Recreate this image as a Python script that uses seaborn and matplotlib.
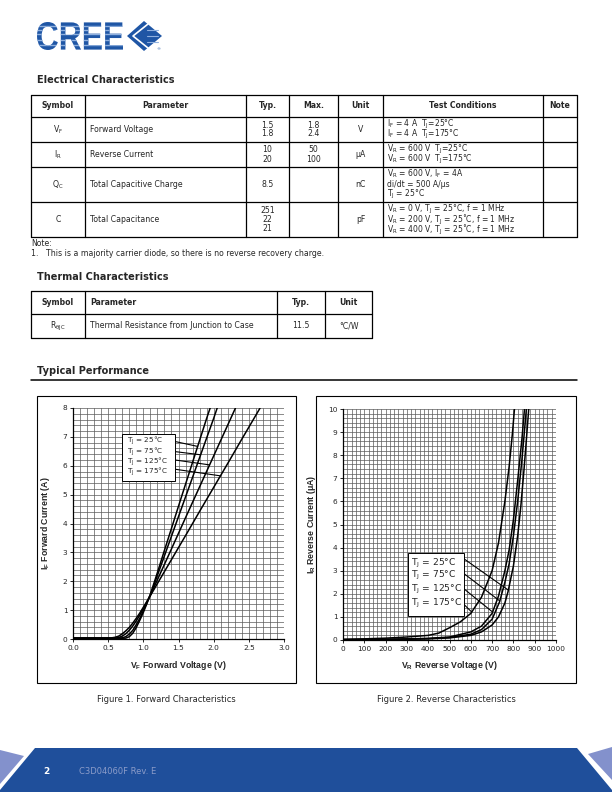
import numpy as np
import pandas as pd
import seaborn as sns
import matplotlib
matplotlib.use('Agg')
import matplotlib.pyplot as plt
from matplotlib.patches import Rectangle, Polygon, PathPatch
from matplotlib.textpath import TextPath
from matplotlib.font_manager import FontProperties
from matplotlib.ticker import MultipleLocator, FormatStrFormatter
from matplotlib.transforms import Affine2D

sns.set_style('white')
plt.rcParams['font.family'] = ['DejaVu Sans']
plt.rcParams['mathtext.default'] = 'regular'

def sub(base, s):
    return base + r'$_\mathregular{' + s + '}$'

TJ = sub('T', 'J')

# ---------------------------------------------------------------- table data
elec_header = ['Symbol', 'Parameter', 'Typ.', 'Max.', 'Unit', 'Test Conditions', 'Note']
elec_symbols = [sub('V', 'F'), sub('I', 'R'), sub('Q', 'C'), 'C']
elec_params = ['Forward Voltage', 'Reverse Current', 'Total Capacitive Charge', 'Total Capacitance']
elec_typ = [['1.5', '1.8'], ['10', '20'], ['8.5'], ['251', '22', '21']]
elec_max = [['1.8', '2.4'], ['50', '100'], [], []]
elec_units = ['V', 'μA', 'nC', 'pF']
elec_conds = [
    [sub('I', 'F') + ' = 4 A  ' + TJ + '=25°C', sub('I', 'F') + ' = 4 A  ' + TJ + '=175°C'],
    [sub('V', 'R') + ' = 600 V  ' + TJ + '=25°C', sub('V', 'R') + ' = 600 V  ' + TJ + '=175°C'],
    [sub('V', 'R') + ' = 600 V, ' + sub('I', 'F') + ' = 4A', 'di/dt = 500 A/μs', TJ + ' = 25°C'],
    [sub('V', 'R') + ' = 0 V, ' + TJ + ' = 25°C, f = 1 MHz',
     sub('V', 'R') + ' = 200 V, ' + TJ + ' = 25˚C, f = 1 MHz',
     sub('V', 'R') + ' = 400 V, ' + TJ + ' = 25˚C, f = 1 MHz'],
]
note_lines = ['Note:', '1.   This is a majority carrier diode, so there is no reverse recovery charge.']

therm_header = ['Symbol', 'Parameter', 'Typ.', 'Unit']
therm_row = [sub('R', 'θJC'), 'Thermal Resistance from Junction to Case', '11.5', '°C/W']

# ---------------------------------------------------------------- chart data
temps = ['25°C', '75°C', '125°C', '175°C']

# forward characteristics (V, A)
vf_25 = [0, 0.6, 0.75, 0.8, 0.85, 0.9, 0.95, 1.0, 1.05, 1.1, 1.2, 1.3, 1.4, 1.5, 1.6, 1.7, 1.8, 1.9, 1.95]
if_25 = [0.02, 0.02, 0.03, 0.08, 0.2, 0.4, 0.65, 0.92, 1.22, 1.55, 2.3, 3.07, 3.83, 4.6, 5.36, 6.12, 6.88, 7.64, 8.0]
vf_75 = [0, 0.6, 0.7, 0.75, 0.8, 0.85, 0.9, 0.95, 1.0, 1.05, 1.1, 1.2, 1.3, 1.4, 1.5, 1.6, 1.7, 1.8, 1.9, 2.0, 2.05]
if_75 = [0.02, 0.02, 0.04, 0.08, 0.17, 0.3, 0.5, 0.72, 0.98, 1.25, 1.53, 2.2, 2.88, 3.56, 4.24, 4.92, 5.6, 6.28, 6.96, 7.64, 8.0]
vf_125 = [0, 0.6, 0.65, 0.7, 0.75, 0.8, 0.85, 0.9, 0.95, 1.0, 1.05, 1.1, 1.2, 1.4, 1.6, 1.8, 2.0, 2.2, 2.31]
if_125 = [0.03, 0.03, 0.05, 0.1, 0.18, 0.3, 0.45, 0.63, 0.83, 1.05, 1.28, 1.52, 2.05, 3.12, 4.2, 5.27, 6.34, 7.41, 8.0]
vf_175 = [0, 0.55, 0.6, 0.65, 0.7, 0.75, 0.8, 0.85, 0.9, 0.95, 1.0, 1.05, 1.1, 1.2, 1.4, 1.6, 1.8, 2.0, 2.2, 2.4, 2.6, 2.66]
if_175 = [0.04, 0.04, 0.06, 0.1, 0.18, 0.28, 0.4, 0.55, 0.72, 0.9, 1.1, 1.3, 1.5, 1.92, 2.75, 3.58, 4.42, 5.25, 6.08, 6.92, 7.75, 8.0]
fwd_leader_i = [6.67, 6.38, 6.03, 5.65]

# reverse characteristics (V, uA)
vr_25 = [0, 200, 400, 500, 600, 650, 700, 730, 760, 775, 800, 820, 835, 850, 862, 872]
ir_25 = [0.01, 0.02, 0.05, 0.09, 0.2, 0.35, 0.65, 1.0, 1.6, 2.1, 3.2, 4.5, 5.8, 7.4, 8.8, 10.0]
vr_75 = [0, 200, 400, 500, 600, 650, 700, 735, 760, 780, 800, 820, 840, 861]
ir_75 = [0.01, 0.02, 0.06, 0.11, 0.25, 0.45, 0.9, 1.65, 2.5, 3.3, 4.5, 6.0, 7.8, 10.0]
vr_125 = [0, 200, 400, 500, 600, 650, 700, 730, 760, 780, 800, 820, 840, 852]
ir_125 = [0.02, 0.03, 0.07, 0.13, 0.35, 0.6, 1.15, 1.9, 3.0, 3.9, 5.2, 6.9, 8.7, 10.0]
vr_175 = [0, 100, 200, 300, 400, 450, 500, 550, 600, 650, 700, 730, 760, 780, 795, 805]
ir_175 = [0.03, 0.05, 0.08, 0.13, 0.2, 0.3, 0.53, 0.78, 1.15, 1.85, 3.0, 4.2, 6.0, 7.5, 8.9, 10.0]
rev_leader_i = [2.16, 1.69, 1.21, 1.21]

fwd = pd.concat([pd.DataFrame({'V': v, 'I': i, 'T': t}) for v, i, t in
                 zip([vf_25, vf_75, vf_125, vf_175], [if_25, if_75, if_125, if_175], temps)])
rev = pd.concat([pd.DataFrame({'V': v, 'I': i, 'T': t}) for v, i, t in
                 zip([vr_25, vr_75, vr_125, vr_175], [ir_25, ir_75, ir_125, ir_175], temps)])

# ---------------------------------------------------------------- page
fig = plt.figure(figsize=(6.12, 7.92), dpi=100)
page = fig.add_axes([0, 0, 1, 1])
page.set_xlim(0, 612)
page.set_ylim(792, 0)
page.axis('off')

BLUE = '#1f56a5'
FS = 5.6

# logo
tp = TextPath((0, 0), 'CREE', size=1, prop=FontProperties(family='Liberation Sans', weight='bold'))
bb = tp.get_extents()
tr = Affine2D().translate(-bb.x0, -bb.y0).scale(86 / bb.width, -28 / bb.height).translate(37, 50)
logo = PathPatch(tp, transform=tr + page.transData, color=BLUE, lw=0)
page.add_patch(logo)
for yy in [25.5, 29.5, 33.5, 39.5, 44.5]:
    ln, = page.plot([36, 124], [yy, yy], color='#8fb0de', lw=1.0)
    ln.set_clip_path(logo)
page.add_patch(Polygon([(127, 36), (144, 21), (162, 36), (144, 51)], color=BLUE, lw=0))
page.plot([148, 133, 148], [24, 36, 48], color='white', lw=1.2)
for yy in [30, 36, 42]:
    page.plot([147, 158], [yy, yy], color='#8fb0de', lw=0.8)
page.text(158, 49, '®', fontsize=3, color=BLUE, ha='center', va='center')

# headings
page.text(37, 80, 'Electrical Characteristics', fontsize=7, weight='bold', va='center')
page.text(37, 277, 'Thermal Characteristics', fontsize=7, weight='bold', va='center')
page.text(37, 371, 'Typical Performance', fontsize=7, weight='bold', va='center')
page.plot([31, 577], [380, 380], color='black', lw=1.1)

# electrical table
ecols = [31, 85, 246, 289, 338, 383, 543, 577]
erows = [95, 117, 142, 167, 202, 237]
for y in erows:
    page.plot([ecols[0], ecols[-1]], [y, y], color='black', lw=0.9)
for x in ecols:
    page.plot([x, x], [erows[0], erows[-1]], color='black', lw=0.9)
for k, h in enumerate(elec_header):
    page.text((ecols[k] + ecols[k + 1]) / 2, (erows[0] + erows[1]) / 2, h,
              fontsize=FS, weight='bold', ha='center', va='center')

def cell_lines(lines, x, ymid, ha, fs=FS, step=9):
    n = len(lines)
    for j, s in enumerate(lines):
        page.text(x, ymid + (j - (n - 1) / 2) * step, s, fontsize=fs, ha=ha, va='center')

for r in range(4):
    ymid = (erows[r + 1] + erows[r + 2]) / 2
    cmid = lambda k: (ecols[k] + ecols[k + 1]) / 2
    cell_lines([elec_symbols[r]], cmid(0), ymid, 'center')
    cell_lines([elec_params[r]], 90, ymid, 'left')
    cell_lines(elec_typ[r], cmid(2), ymid, 'center')
    cell_lines(elec_max[r], cmid(3), ymid, 'center')
    cell_lines([elec_units[r]], cmid(4), ymid, 'center')
    cell_lines(elec_conds[r], 387, ymid, 'left', fs=5.5, step=10.3)

page.text(31, 244, note_lines[0], fontsize=FS, va='center')
page.text(31, 254, note_lines[1], fontsize=FS, va='center')

# thermal table
tcols = [31, 85, 277, 325, 372]
trows = [291, 314, 338]
for y in trows:
    page.plot([tcols[0], tcols[-1]], [y, y], color='black', lw=0.9)
for x in tcols:
    page.plot([x, x], [trows[0], trows[-1]], color='black', lw=0.9)
for k, h in enumerate(therm_header):
    xx = 90 if k == 1 else (tcols[k] + tcols[k + 1]) / 2
    page.text(xx, (trows[0] + trows[1]) / 2, h, fontsize=FS, weight='bold',
              ha='left' if k == 1 else 'center', va='center')
for k, s in enumerate(therm_row):
    xx = 90 if k == 1 else (tcols[k] + tcols[k + 1]) / 2
    page.text(xx, (trows[1] + trows[2]) / 2, s, fontsize=FS,
              ha='left' if k == 1 else 'center', va='center')

# chart frames and captions
page.add_patch(Rectangle((37, 396), 259, 287, fill=False, ec='black', lw=0.8))
page.add_patch(Rectangle((316, 396), 260, 287, fill=False, ec='black', lw=0.8))
page.text(166, 700, 'Figure 1. Forward Characteristics', fontsize=6, ha='center', va='center')
page.text(446, 700, 'Figure 2. Reverse Characteristics', fontsize=6, ha='center', va='center')

# footer
page.add_patch(Polygon([(0, 750), (24, 756), (0, 784)], color='#8391cc', lw=0))
page.add_patch(Polygon([(588, 754), (612, 747), (612, 780)], color='#8391cc', lw=0))
page.add_patch(Polygon([(35, 748), (577, 748), (612, 790), (612, 792), (0, 792), (0, 790)],
                       color='#1f4f9b', lw=0))
page.text(43, 772, '2', fontsize=6.5, weight='bold', color='white', va='center')
page.text(79, 772, 'C3D04060F Rev. E', fontsize=6, color='#8b9cc9', va='center')

# ---------------------------------------------------------------- charts
LAB = dict(family='Liberation Sans', weight='bold', size=6.3)

def add_ax(x1, y1, x2, y2):
    return fig.add_axes([x1 / 612, 1 - y2 / 792, (x2 - x1) / 612, (y2 - y1) / 792])

def style_chart(ax, xmaj, xmin, ymaj, ymin):
    ax.xaxis.set_major_locator(MultipleLocator(xmaj))
    ax.xaxis.set_minor_locator(MultipleLocator(xmin))
    ax.yaxis.set_major_locator(MultipleLocator(ymaj))
    ax.yaxis.set_minor_locator(MultipleLocator(ymin))
    ax.grid(which='both', color='#5a5a5a', lw=0.5)
    ax.set_axisbelow(True)
    ax.tick_params(which='major', length=2, width=0.7, labelsize=5.3, pad=2,
                   bottom=True, left=True, direction='out')
    ax.tick_params(which='minor', length=0)
    for s in ['top', 'right']:
        ax.spines[s].set_visible(False)
    for s in ['left', 'bottom']:
        ax.spines[s].set_color('black')
        ax.spines[s].set_linewidth(0.9)
    ax.set_facecolor('white')

# forward
ax1 = add_ax(73, 408, 284, 639)
sns.lineplot(data=fwd, x='V', y='I', hue='T', palette=['black'] * 4, estimator=None,
             sort=False, legend=False, lw=1.1, ax=ax1)
ax1.set_xlim(0, 3)
ax1.set_ylim(0, 8)
style_chart(ax1, 0.5, 0.1, 1, 0.2)
ax1.xaxis.set_major_formatter(FormatStrFormatter('%.1f'))
ax1.set_xlabel(sub('V', 'F') + ' Forward Voltage (V)', labelpad=6, **LAB)
ax1.set_ylabel(sub('I', 'F') + ' Forward Current (A)', labelpad=8, **LAB)

ax1.add_patch(Rectangle((0.69, 5.48), 0.76, 1.62, fc='white', ec='black', lw=0.7, zorder=4))
fwd_text_y = [6.86, 6.5, 6.14, 5.78]
fwd_start_y = [6.84, 6.49, 6.2, 5.88]
for k, (v, i) in enumerate(zip([vf_25, vf_75, vf_125, vf_175], [if_25, if_75, if_125, if_175])):
    ax1.text(0.77, fwd_text_y[k], TJ + ' = ' + temps[k], fontsize=5.2, va='center', zorder=5)
    xe = np.interp(fwd_leader_i[k], i, v)
    ax1.plot([1.45, xe], [fwd_start_y[k], fwd_leader_i[k]], color='black', lw=0.8, zorder=3)

# reverse
ax2 = add_ax(343, 409, 556, 640)
sns.lineplot(data=rev, x='V', y='I', hue='T', palette=['black'] * 4, estimator=None,
             sort=False, legend=False, lw=1.1, ax=ax2)
ax2.set_xlim(0, 1000)
ax2.set_ylim(0, 10)
style_chart(ax2, 100, 20, 1, 0.2)
ax2.set_xlabel(sub('V', 'R') + ' Reverse Voltage (V)', labelpad=5, **LAB)
ax2.set_ylabel(sub('I', 'R') + ' Reverse Current (μA)', labelpad=7, **LAB)

ax2.add_patch(Rectangle((306, 1.04), 264, 2.73, fc='white', ec='black', lw=0.7, zorder=4))
rev_text_y = [3.33, 2.79, 2.2, 1.6]
rev_start_y = [3.5, 2.86, 2.2, 1.52]
for k, (v, i) in enumerate(zip([vr_25, vr_75, vr_125, vr_175], [ir_25, ir_75, ir_125, ir_175])):
    ax2.text(320, rev_text_y[k], TJ + ' = ' + temps[k], fontsize=6.6, va='center', zorder=5)
    xe = np.interp(rev_leader_i[k], i, v)
    ax2.plot([570, xe], [rev_start_y[k], rev_leader_i[k]], color='black', lw=0.8, zorder=3)

fig.savefig('out.png', dpi=100, facecolor='white')
